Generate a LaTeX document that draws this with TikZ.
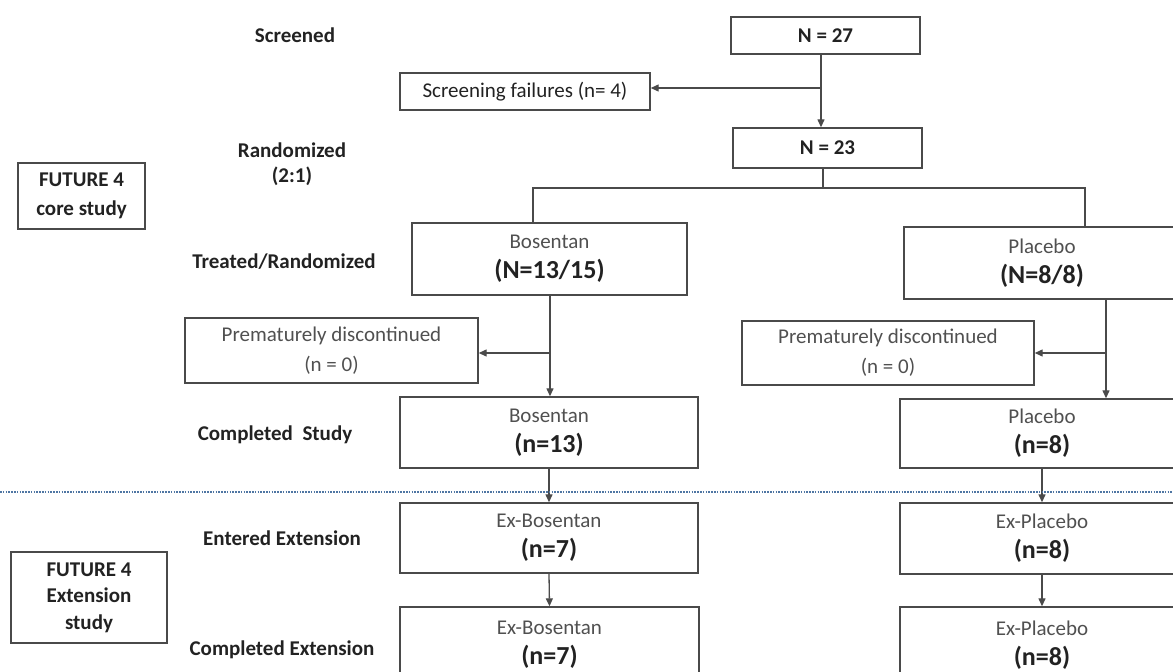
\documentclass[tikz,border=0pt]{standalone}
\usepackage{fontspec}
\setmainfont{Carlito}
\usepackage{xcolor}
\usetikzlibrary{arrows.meta,positioning}
\definecolor{boxc}{HTML}{4A4A4A}
\definecolor{txtc}{HTML}{222222}
\definecolor{softt}{HTML}{505050}
\definecolor{sepc}{HTML}{4F76A3}
\newcommand{\bignum}{\fontsize{26}{30}\selectfont\bfseries\color{txtc}}
\tikzset{
  bx/.style={draw=boxc,line width=1.4pt,inner sep=0pt,align=center,text=softt,font=\fontsize{21}{30}\selectfont},
  bxb/.style={bx,text=txtc,font=\bfseries\fontsize{21}{29}\selectfont},
  lb/.style={align=center,text=txtc,font=\bfseries\fontsize{21}{25}\selectfont},
  ln/.style={line width=1.3pt,boxc},
  ar/.style={ln,-{Triangle[length=8pt,width=7pt]}},
  sepl/.style={sepc,line width=1.6pt,dash pattern=on 1.6pt off 1.2pt}
}
\begin{document}
\begin{tikzpicture}[x=1pt,y=-1pt]
\useasboundingbox (0,0) rectangle (1173,672);
% stage labels
\node[lb] (lscr) at (295,35) {Screened};
\node[lb] (lrand) at (292,164.5) {Randomized\\(2:1)};
\node[lb] (ltreat) at (284,262) {Treated/Randomized};
\node[lb] (lcomp) at (275,435) {Completed\ \ Study};
\node[lb] (lent) at (282,538) {Entered Extension};
\node[lb] (lcext) at (282,650) {Completed Extension};
\node[bxb,minimum width=127pt,minimum height=66pt] (core) at (81.5,196) {FUTURE 4\\core study};
\node[bxb,minimum width=156pt,minimum height=91pt,font=\bfseries\fontsize{21}{26.5}\selectfont] (ext) at (89,597.5) {FUTURE 4\\Extension\\study};
% flow boxes
\node[bxb,minimum width=189pt,minimum height=37pt] (n27) at (825.5,35.5) {N = 27};
\node[bx,text=txtc,minimum width=250pt,minimum height=37pt] (sf) at (525,91.5) {Screening failures (n= 4)};
\node[bxb,minimum width=189pt,minimum height=40pt] (n23) at (827.5,148) {N = 23};
\node[bx,minimum width=275pt,minimum height=72pt] (bos) at (549.5,259) {Bosentan\\{\bignum (N=13/15)}};
\node[bx,minimum width=276pt,minimum height=72pt] (pla) at (1042,263) {Placebo\\{\bignum (N=8/8)}};
\node[bx,minimum width=293pt,minimum height=65pt] (pd1) at (331.5,350.5) {Prematurely discontinued\\(n = 0)};
\node[bx,minimum width=292pt,minimum height=64pt] (pd2) at (888,353) {Prematurely discontinued\\(n = 0)};
\node[bx,minimum width=298pt,minimum height=71pt] (cbos) at (549,432.5) {Bosentan\\{\bignum (n=13)}};
\node[bx,minimum width=284pt,minimum height=69pt] (cpla) at (1042,433.5) {Placebo\\{\bignum (n=8)}};
\node[bx,minimum width=298pt,minimum height=70pt] (ebos) at (549,538) {Ex-Bosentan\\{\bignum (n=7)}};
\node[bx,minimum width=284pt,minimum height=71pt] (epla) at (1042,538.5) {Ex-Placebo\\{\bignum (n=8)}};
\node[bx,minimum width=299pt,minimum height=76pt] (fbos) at (549.5,645) {Ex-Bosentan\\{\bignum (n=7)}};
\node[bx,minimum width=284pt,minimum height=76pt] (fpla) at (1042,645) {Ex-Placebo\\{\bignum (n=8)}};
% split points
\coordinate (sfsplit) at (821,88);
\coordinate (rsplit) at (823,188);
\coordinate (bsplit) at (550,353);
\coordinate (psplit) at (1106,353);
\coordinate (dl) at (0,492);
\coordinate (dr) at (1173,492);
% connectors
\draw[ln] (n27.south -| sfsplit) -- (sfsplit);
\draw[ar] (sfsplit) -- (n23.north -| sfsplit);
\draw[ar] (sfsplit) -- (sfsplit -| sf.east);
\draw[ln] (n23.south -| rsplit) -- (rsplit);
\draw[ln] ([xshift=-16.5pt]bos.north) |- (rsplit) -| ([xshift=43pt]pla.north);
\draw[ln] (bos.south -| bsplit) -- (bsplit);
\draw[ar] (bsplit) -- (cbos.north -| bsplit);
\draw[ar] (bsplit) -- (bsplit -| pd1.east);
\draw[ln] (pla.south -| psplit) -- (psplit);
\draw[ar] (psplit) -- (cpla.north -| psplit);
\draw[ar] (psplit) -- (psplit -| pd2.east);
\draw[ar] (cbos.south) -- (ebos.north);
\draw[ar] (ebos.south) -- (fbos.north);
\draw[ar] (cpla.south) -- (epla.north);
\draw[ar] (epla.south) -- (fpla.north);
% core / extension divider
\draw[sepl] (dl) -- (dr);
\end{tikzpicture}
\end{document}
